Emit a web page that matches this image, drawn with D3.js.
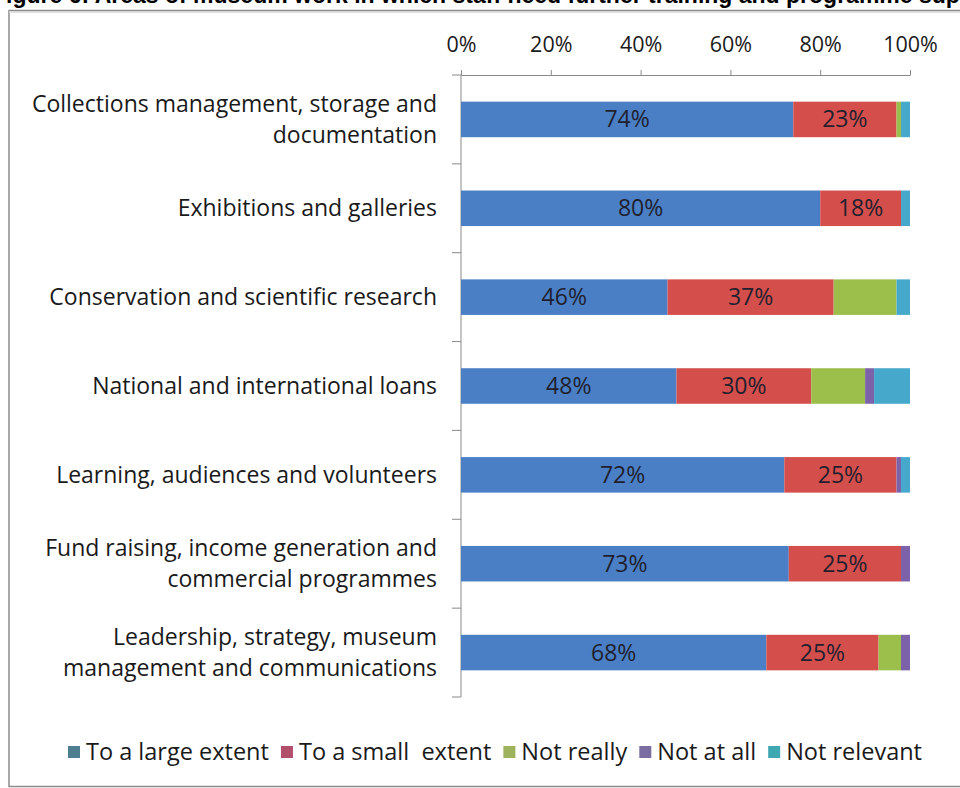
<!DOCTYPE html>
<html>
<head>
<meta charset="utf-8">
<script src="https://cdn.jsdelivr.net/npm/d3@7"></script>
<style>
  body { margin: 0; background: #fff; }
  svg { display: block; }
  text { font-family: "Open Sans", Lato, sans-serif; }
</style>
</head>
<body>
<svg id="chart" width="960" height="788"></svg>
<script>
// Programme areas (top to bottom); "\n" marks a line break in the label
const categories = [
  "Collections management, storage and\ndocumentation",
  "Exhibitions and galleries",
  "Conservation and scientific research",
  "National and international loans",
  "Learning, audiences and volunteers",
  "Fund raising, income generation and\ncommercial programmes",
  "Leadership, strategy, museum\nmanagement and communications"
];

const seriesNames = ["To a large extent", "To a small  extent", "Not really", "Not at all", "Not relevant"];

// Share of responses (%) per programme area
const largeExtent = [74, 80, 46, 48, 72, 73, 68];
const smallExtent = [23, 18, 37, 30, 25, 25, 25];
const notReally   = [1, 0, 14, 12, 0, 0, 5];
const notAtAll    = [0, 0, 0, 2, 1, 2, 2];
const notRelevant = [2, 2, 3, 8, 2, 0, 0];

const tickValues = [0, 20, 40, 60, 80, 100];

const barColors    = ["#4a7fc6", "#d44f4c", "#9cbf4c", "#7c62a8", "#46a9cc"];
const legendColors = ["#4f7e90", "#b24f6c", "#9db25a", "#7a6ea0", "#3fa9b3"];
const labelledSeries = [0, 1];
const fontSize = 23;
const tickFontSize = 21.5;
const legendFontSize = 23.5;

const seriesValues = [largeExtent, smallExtent, notReally, notAtAll, notRelevant];
const rows = categories.map((c, i) => {
  const r = { category: c };
  seriesNames.forEach((s, k) => { r[s] = seriesValues[k][i]; });
  return r;
});

const svg = d3.select("#chart");

// Figure title (runs off the top edge of the page)
svg.append("text")
  .attr("x", -8).attr("y", 3)
  .style("font-family", "Liberation Sans, Arial, sans-serif")
  .attr("font-weight", "bold").attr("font-size", 23).attr("fill", "#000")
  .text("Figure 6: Areas of museum work in which staff need further training and programme support");

// Chart frame
svg.append("rect")
  .attr("x", 9).attr("y", 10.5).attr("width", 980).attr("height", 776)
  .attr("fill", "#fff").attr("stroke", "#8c8c8c").attr("stroke-width", 1.5);
svg.append("line")
  .attr("x1", 9).attr("x2", 960).attr("y1", 12).attr("y2", 12)
  .attr("stroke", "#d4d4d4").attr("stroke-width", 1.5);

const x = d3.scaleLinear().domain([0, 100]).range([461, 910]);
const y = d3.scaleBand().domain(categories).range([75, 697])
  .paddingInner(0.6).paddingOuter(0.3);

const stack = d3.stack().keys(seriesNames);
const layers = stack(rows);

// Value axis along the top
const xAxis = svg.append("g")
  .attr("transform", "translate(0,75)")
  .call(d3.axisTop(x).tickValues(tickValues).tickSize(5).tickSizeOuter(0).tickFormat(d => d + "%"));
xAxis.select(".domain").attr("stroke", "#8a8a8a");
xAxis.selectAll(".tick line").attr("stroke", "#8a8a8a");
xAxis.selectAll(".tick text")
  .attr("y", -23).attr("font-size", tickFontSize).attr("fill", "#1a1a1a")
  .style("font-family", "'Open Sans', sans-serif");

// Category axis: vertical line with tick marks between bands
const step = y.step();
const bounds = d3.range(categories.length + 1).map(i => 75 + i * step);
const cat = svg.append("g");
cat.append("line")
  .attr("x1", x(0)).attr("x2", x(0)).attr("y1", 75).attr("y2", 697)
  .attr("stroke", "#8a8a8a");
cat.selectAll("line.tk").data(bounds).join("line")
  .attr("class", "tk")
  .attr("x1", x(0) - 9).attr("x2", x(0)).attr("y1", d => d).attr("y2", d => d)
  .attr("stroke", "#8a8a8a");

// Category labels
const catLabels = svg.append("g").selectAll("text").data(categories).join("text")
  .attr("text-anchor", "end").attr("font-size", fontSize).attr("fill", "#1a1a1a");
catLabels.each(function (d) {
  const lines = d.split("\n");
  const cy = y(d) + y.bandwidth() / 2;
  const lh = 31;
  const t = d3.select(this);
  lines.forEach((ln, i) => {
    t.append("tspan").attr("x", 437)
      .attr("y", cy + 8 + (i - (lines.length - 1) / 2) * lh)
      .text(ln);
  });
});

// Stacked bars
const gLayers = svg.append("g").selectAll("g").data(layers).join("g")
  .attr("fill", (d, i) => barColors[i]);
gLayers.selectAll("rect").data(d => d).join("rect")
  .attr("x", d => x(d[0]))
  .attr("width", d => x(d[1]) - x(d[0]))
  .attr("y", d => y(d.data.category))
  .attr("height", y.bandwidth());

// Value labels on the first two segments
layers.forEach((layer, i) => {
  if (!labelledSeries.includes(i)) return;
  svg.append("g").selectAll("text").data(layer).join("text")
    .attr("x", d => (x(d[0]) + x(d[1])) / 2)
    .attr("y", d => y(d.data.category) + y.bandwidth() / 2 + 8)
    .attr("text-anchor", "middle").attr("font-size", fontSize).attr("fill", "#1f1f2e")
    .text(d => (d[1] - d[0]) + "%");
});

// Legend: items spread across the bottom of the frame
const legend = svg.append("g").attr("transform", "translate(68,752)");
const legendWidth = 922 - 68;
const items = seriesNames.map((name, i) => {
  const g = legend.append("g");
  g.append("rect").attr("x", 0).attr("y", -6).attr("width", 12).attr("height", 12)
    .attr("fill", legendColors[i]);
  const t = g.append("text").attr("x", 18).attr("y", 8)
    .attr("font-size", legendFontSize).attr("fill", "#1a1a1a")
    .attr("xml:space", "preserve").style("white-space", "pre")
    .text(name);
  return { g, w: 18 + t.node().getComputedTextLength() };
});
const totalW = d3.sum(items, d => d.w);
const gap = (legendWidth - totalW) / (items.length - 1);
let lx = 0;
items.forEach(it => {
  it.g.attr("transform", `translate(${lx},0)`);
  lx += it.w + gap;
});
</script>
</body>
</html>
